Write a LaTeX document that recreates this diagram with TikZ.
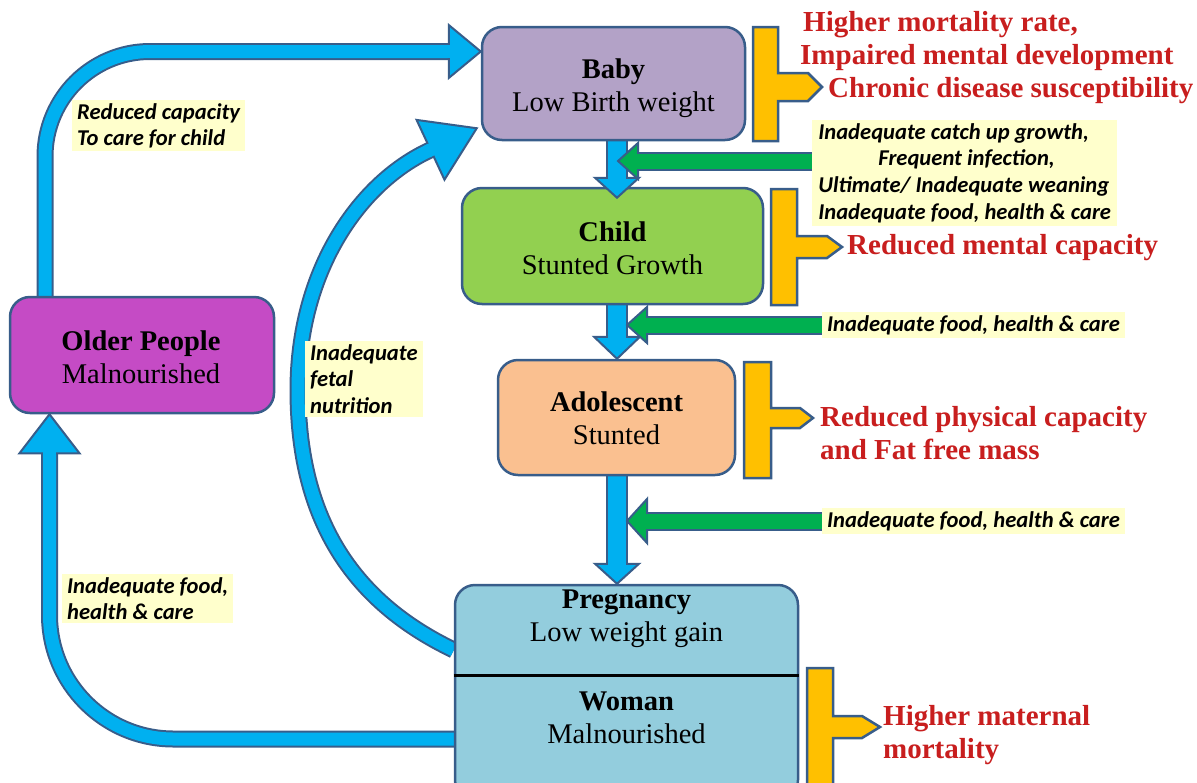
\documentclass[tikz,border=0pt]{standalone}
\usepackage{fontspec}
\setmainfont{Liberation Serif}
\newfontfamily\labfont{Carlito}
\usetikzlibrary{calc}
\pgfdeclarelayer{bg}
\pgfsetlayers{bg,main}
\definecolor{edgec}{HTML}{385D8A}
\definecolor{arrowblue}{HTML}{00B0F0}
\definecolor{arrowgreen}{HTML}{00B050}
\definecolor{brkyellow}{HTML}{FFC000}
\definecolor{babyc}{HTML}{B3A2C7}
\definecolor{childc}{HTML}{92D050}
\definecolor{adolc}{HTML}{FAC090}
\definecolor{pregc}{HTML}{93CDDD}
\definecolor{olderc}{HTML}{C54BC5}
\definecolor{redc}{HTML}{C81E1E}
\definecolor{labbg}{HTML}{FFFFCC}
\tikzset{
  box/.style={draw=edgec, line width=2.5pt, rounded corners=20pt, inner sep=0pt},
  boxtext/.style={align=center, font=\fontsize{28.5}{33}\selectfont, inner sep=0pt},
  bblue/.style={draw=arrowblue, line width=13pt, preaction={draw=edgec, line width=17pt}},
  vblue/.style={draw=arrowblue, line width=18pt, preaction={draw=edgec, line width=22pt}},
  ggreen/.style={draw=arrowgreen, line width=15pt, preaction={draw=edgec, line width=19pt}},
  pics/ahead/.style args={#1/#2/#3}{code={\filldraw[fill=#3, draw=edgec, line width=2pt, line join=miter] (0,0) -- (-#1,#2) -- (-#1,-#2) -- cycle;}},
  lab/.style={fill=labbg, font=\labfont\bfseries\itshape\fontsize{22.6}{26.7}\selectfont, align=left, inner xsep=5pt, inner ysep=3pt},
  outc/.style={text=redc, font=\bfseries\fontsize{29}{33}\selectfont, inner sep=0pt, anchor=base west},
  brk/.style={fill=brkyellow, draw=edgec, line width=2.5pt, line join=miter},
}
\begin{document}
\begin{tikzpicture}[x=1pt,y=-1pt]
\useasboundingbox (0,0) rectangle (1197,782);
\clip (0,0) rectangle (1197,782);

% ---- boxes
\node[box, fill=babyc, minimum width=263pt, minimum height=113pt] (baby) at (613.5,83.5) {};
\node[box, fill=childc, minimum width=301pt, minimum height=116pt] (child) at (612.5,246) {};
\node[box, fill=adolc, minimum width=237pt, minimum height=115pt] (adol) at (616.5,417.5) {};
\node[box, fill=olderc, minimum width=264pt, minimum height=116pt] (older) at (142,355) {};
\node[box, fill=pregc, minimum width=343pt, minimum height=215pt] (preg) at (626.5,692.5) {};
\draw[line width=3pt] (preg.west |- 0,675) -- (preg.east |- 0,675);

\node[boxtext] (babyt) at (613.5,88) {\textbf{Baby}\\Low Birth weight};
\node[boxtext] (childt) at (612.5,248) {\textbf{Child}\\Stunted Growth};
\node[boxtext] (adolt) at (616.5,418) {\textbf{Adolescent}\\Stunted};
\node[boxtext] (oldert) at (141,357) {\textbf{Older People}\\Malnourished};
\node[boxtext] (pregt) at (626.5,619) {\textbf{Pregnancy}\\Low weight gain};
\node[boxtext] (woment) at (626.5,718) {\textbf{Woman}\\Malnourished};

% ---- labels
\node[lab, anchor=north west, minimum width=305pt, minimum height=105pt] (lab1) at (812,120)
  {Inadequate catch up growth,\\\hspace*{60pt}Frequent infection,\\Ultimate/ Inadequate weaning\\Inadequate food, health \& care};
\node[lab, anchor=west] (lab2) at (822,325) {Inadequate food, health \& care};
\node[lab, anchor=west] (lab3) at (822,521) {Inadequate food, health \& care};
\node[lab, anchor=north west] (labrc) at (72,100) {Reduced capacity\\To care for child};
\node[lab, anchor=north west] (labf) at (305,341) {Inadequate\\fetal\\nutrition};
\node[lab, anchor=north west] (labl) at (62,574) {Inadequate food,\\health \& care};

% ---- coordinates
\coordinate (vx) at (617,0);
\coordinate (ftip) at ($(baby.south west)+(-4,-13)$);
\coordinate (fbase) at ($(ftip)+(-46,21.5)$);
\coordinate (g1tip) at (618,161);
\coordinate (g2tip) at (627,325);
\coordinate (g3tip) at (627,521);

% ---- shafts (background)
\begin{pgfonlayer}{bg}
\draw[bblue, rounded corners=105pt] (older.north -| 45,0) |- ($(baby.west)+(-31,-32)$);
\draw[bblue, rounded corners=124pt] (preg.west |- 0,739) -| ($(older.south -| 49.5,0)+(0,38)$);
\draw[bblue] (preg.west |- 0,650) .. controls (345,598) and (298,510) .. (298,390)
   .. controls (298,270) and (360,182) .. (fbase);
\draw[vblue] (baby.south -| vx) -- ($(child.north -| vx)+(0,-9)$);
\draw[vblue] (child.south -| vx) -- ($(adol.north -| vx)+(0,-21)$);
\draw[vblue] (adol.south -| vx) -- ($(preg.north -| vx)+(0,-19)$);
\draw[ggreen] (lab1.west |- g1tip) -- ($(g1tip)+(19,0)$);
\draw[ggreen] (lab2.west) -- ($(g2tip)+(19,0)$);
\draw[ggreen] (lab3.west) -- ($(g3tip)+(19,0)$);
\end{pgfonlayer}

% ---- heads
\pic at ($(baby.west)+(0,-32)$) {ahead=32/26.5/arrowblue};
\draw[draw=arrowblue, line width=13pt] ($(baby.west)+(-35,-32)$) -- ($(baby.west)+(-28,-32)$);
\pic[rotate=90] at (older.south -| 49.5,0) {ahead=39/30/arrowblue};
\draw[draw=arrowblue, line width=13pt] ($(older.south -| 49.5,0)+(0,42)$) -- ($(older.south -| 49.5,0)+(0,35)$);
\pic[rotate=25] at (ftip) {ahead=51/33/arrowblue};
\draw[draw=arrowblue, line width=13pt] ($(fbase)!-4pt!(ftip)$) -- ($(fbase)!4pt!(ftip)$);
\pic[rotate=-90] at ($(child.north -| vx)+(0,11)$) {ahead=20/22/arrowblue};
\draw[draw=arrowblue, line width=18pt] ($(child.north -| vx)+(0,-12)$) -- ($(child.north -| vx)+(0,-6)$);
\pic[rotate=-90] at (adol.north -| vx) {ahead=22/23/arrowblue};
\draw[draw=arrowblue, line width=18pt] ($(adol.north -| vx)+(0,-25)$) -- ($(adol.north -| vx)+(0,-18)$);
\pic[rotate=-90] at (preg.north -| vx) {ahead=20/22/arrowblue};
\draw[draw=arrowblue, line width=18pt] ($(preg.north -| vx)+(0,-23)$) -- ($(preg.north -| vx)+(0,-16)$);

\pic[rotate=180] at (g1tip) {ahead=20/18/arrowgreen};
\draw[draw=arrowgreen, line width=15pt] ($(g1tip)+(17,0)$) -- ($(g1tip)+(23,0)$);
\pic[rotate=180] at (g2tip) {ahead=20/18/arrowgreen};
\draw[draw=arrowgreen, line width=15pt] ($(g2tip)+(17,0)$) -- ($(g2tip)+(23,0)$);
\pic[rotate=180] at (g3tip) {ahead=20/22/arrowgreen};
\draw[draw=arrowgreen, line width=15pt] ($(g3tip)+(17,0)$) -- ($(g3tip)+(23,0)$);

% ---- brackets
\draw[brk] (753,27) -- (778,27) -- (778,73) -- (808,73) -- (822,87) -- (808,101) -- (778,101) -- (778,141) -- (753,141) -- cycle;
\draw[brk] (771,189) -- (797,189) -- (797,236) -- (827,236) -- (842,247) -- (827,258) -- (797,258) -- (797,305) -- (771,305) -- cycle;
\draw[brk] (744,362) -- (771,362) -- (771,408) -- (800,408) -- (813,418) -- (800,428) -- (771,428) -- (771,478) -- (744,478) -- cycle;
\draw[brk] (807,668) -- (833,668) -- (833,716) -- (862,716) -- (880,727) -- (862,738) -- (833,738) -- (833,800) -- (807,800) -- cycle;

% ---- outcome texts
\node[outc] (o1) at (803,31) {Higher mortality rate,};
\node[outc] (o2) at (800,64) {Impaired mental development};
\node[outc] (o3) at (828,97) {Chronic disease susceptibility};
\node[outc] (o4) at (847,254) {Reduced mental capacity};
\node[outc] (o5) at (820,426) {Reduced physical capacity};
\node[outc] (o6) at (820,459) {and Fat free mass};
\node[outc] (o7) at (883,725) {Higher maternal};
\node[outc] (o8) at (883,758) {mortality};
\end{tikzpicture}
\end{document}
